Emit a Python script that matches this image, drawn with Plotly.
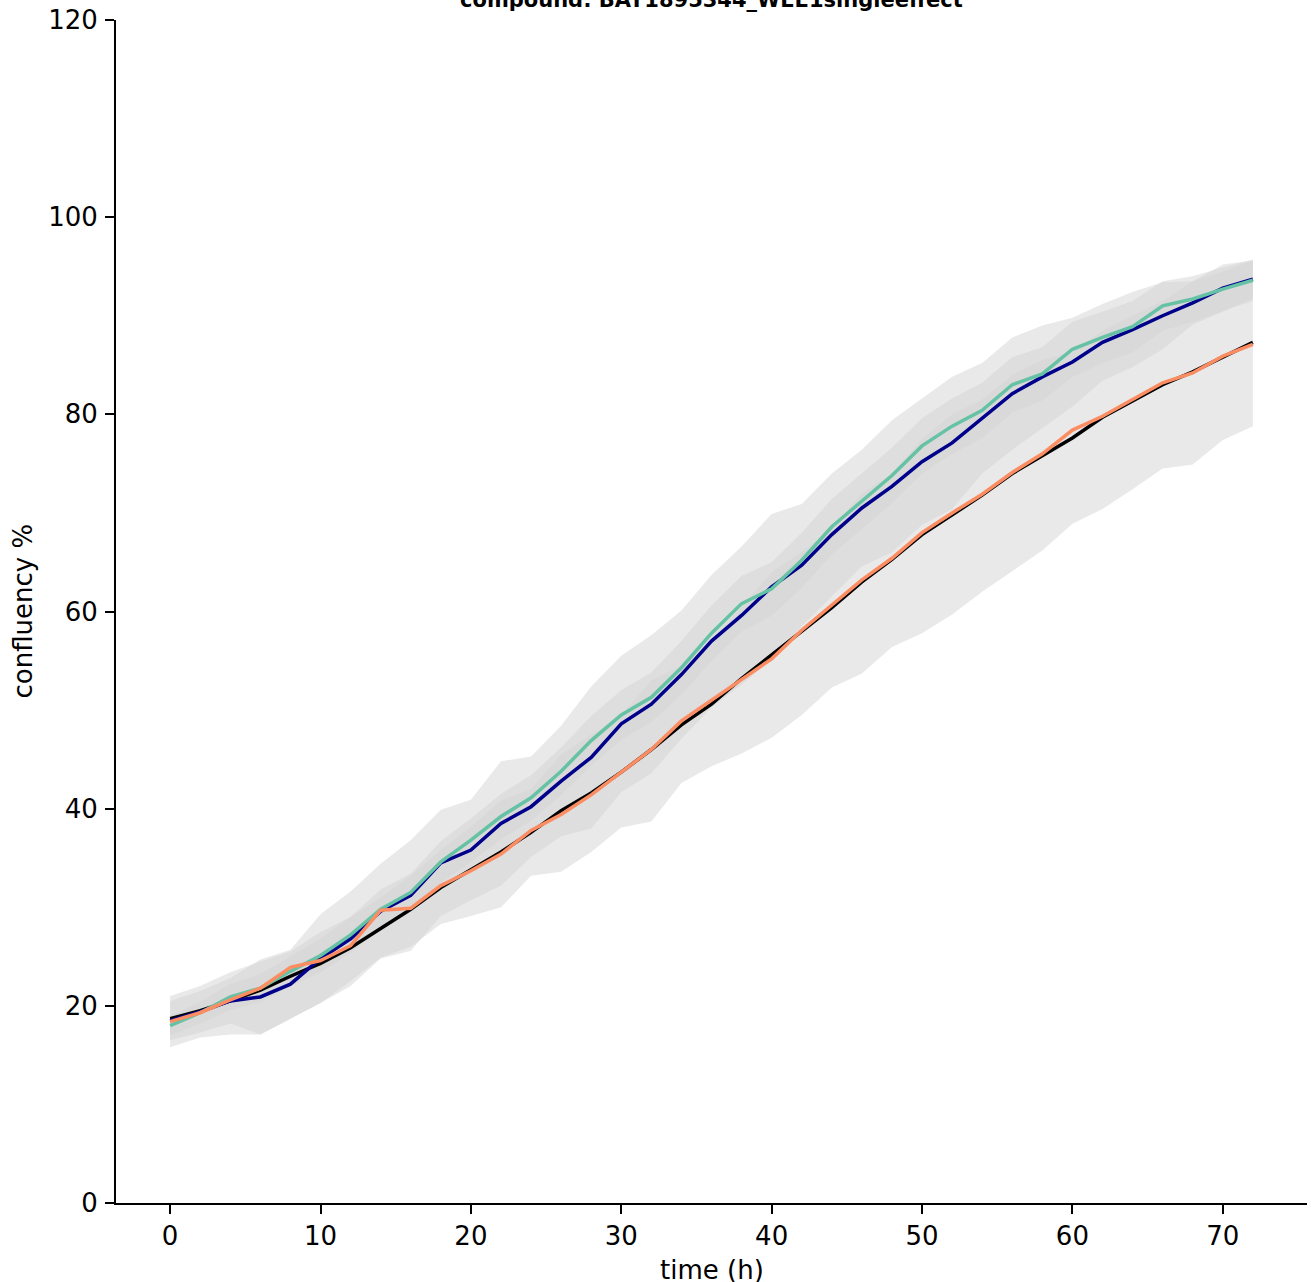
import plotly.graph_objects as go

time_h = list(range(0, 73, 2))

black_mean = [18.7,19.5,20.5,21.6,23.0,24.3,25.9,27.8,29.8,32.0,33.8,35.6,37.6,39.8,41.6,43.7,46.0,48.5,50.6,53.2,
              55.6,58.0,60.4,63.0,65.3,67.8,69.8,71.8,74.0,75.8,77.6,79.7,81.4,83.0,84.3,85.8,87.3]
black_lower = [15.8,16.8,17.1,17.1,18.7,20.3,22.5,24.9,26.0,28.3,29.1,30.0,33.2,33.6,35.6,38.1,38.7,42.6,44.3,45.6,
               47.2,49.5,52.3,53.7,56.4,57.8,59.7,62.0,64.1,66.2,68.9,70.4,72.4,74.5,74.9,77.4,78.8]
black_upper = [21.0,22.0,23.4,24.5,25.5,27.5,29.0,31.0,33.2,35.8,38.2,40.8,42.0,45.5,47.5,49.5,53.0,54.5,57.0,60.5,
               64.0,66.0,68.5,72.0,74.0,77.5,80.0,81.5,84.0,85.5,86.3,88.5,90.0,91.5,93.5,94.5,95.6]

blue_mean = [18.5,19.4,20.5,20.9,22.2,24.8,26.8,29.6,31.2,34.5,35.8,38.5,40.2,42.8,45.2,48.6,50.6,53.6,57.0,59.6,
             62.5,64.7,67.8,70.5,72.7,75.2,77.1,79.6,82.1,83.8,85.3,87.3,88.6,90.0,91.3,92.8,93.7]
blue_lower = [16.5,17.3,18.2,17.1,18.7,20.3,22.0,24.8,25.6,29.1,30.7,32.2,35.1,37.2,38.0,41.7,43.6,47.1,50.3,52.6,
              55.1,58.5,61.6,64.6,66.0,68.8,70.4,74.0,76.4,78.6,80.8,83.4,84.8,86.6,89.1,90.4,91.8]
blue_upper = [20.5,21.5,22.8,24.7,25.7,29.3,31.6,34.4,36.8,39.9,40.9,44.8,45.3,48.4,52.4,55.5,57.6,60.1,63.7,66.6,
              69.9,70.9,74.0,76.4,79.4,81.6,83.8,85.2,87.8,89.0,89.8,91.2,92.4,93.4,93.5,95.2,95.6]

green_mean = [18.0,19.3,20.9,21.8,23.5,25.1,27.2,29.8,31.5,34.6,36.8,39.2,41.1,43.8,46.9,49.5,51.3,54.3,57.8,60.8,
              62.3,65.2,68.6,71.2,73.8,76.8,78.8,80.4,83.0,84.1,86.6,87.8,88.9,91.0,91.7,92.7,93.6]
green_lower = [17.0,18.2,19.6,20.4,22.0,23.4,25.4,27.8,29.6,32.5,34.6,36.9,38.8,41.4,44.4,47.0,48.8,51.6,55.0,58.0,
               59.6,62.4,65.8,68.4,71.0,74.0,76.0,77.6,80.2,81.4,83.8,85.2,86.3,88.5,89.4,90.5,91.5]
green_upper = [19.0,20.4,22.2,23.2,25.0,26.8,29.0,31.8,33.4,36.7,39.0,41.5,43.4,46.2,49.4,52.0,53.8,57.0,60.6,63.6,
               65.0,68.0,71.4,74.0,76.6,79.6,81.6,83.2,85.8,86.8,89.4,90.4,91.5,93.5,94.0,94.9,95.7]

orange_mean = [18.4,19.3,20.6,21.8,23.9,24.6,26.1,29.7,29.9,32.2,33.7,35.4,37.8,39.4,41.4,43.7,46.0,48.9,51.0,53.0,
               55.2,58.1,60.6,63.2,65.4,68.0,70.0,71.9,74.1,76.0,78.4,79.8,81.5,83.2,84.2,85.9,87.1]

title_text = "compound: BAY1895344_WEE1singleeffect"
x_title = "time (h)"
y_title = "confluency %"
x_ticks = [0, 10, 20, 30, 40, 50, 60, 70]
y_ticks = [0, 20, 40, 60, 80, 100, 120]

BAND = "rgba(211,211,211,0.5)"
FONT = "DejaVu Sans"

fig = go.Figure()

for lo, hi in [(black_lower, black_upper), (blue_lower, blue_upper), (green_lower, green_upper)]:
    fig.add_trace(go.Scatter(
        x=time_h + time_h[::-1], y=hi + lo[::-1], fill="toself", fillcolor=BAND,
        line=dict(width=0), mode="lines", hoverinfo="skip", showlegend=False))

for ys, col in [(black_mean, "#000000"), (blue_mean, "#00008b"), (green_mean, "#66c2a5"), (orange_mean, "#fc8d62")]:
    fig.add_trace(go.Scatter(x=time_h, y=ys, mode="lines", line=dict(color=col, width=3.5), showlegend=False))

axis_common = dict(showgrid=False, zeroline=False, showline=True, linecolor="black", linewidth=2,
                   ticks="outside", ticklen=9, tickwidth=2, tickcolor="black",
                   tickfont=dict(family=FONT, size=26, color="black"))

fig.update_xaxes(range=[-3.6, 75.6], tickvals=x_ticks, **axis_common)
fig.update_yaxes(range=[0, 120], tickvals=y_ticks, ticklabelstandoff=2, **axis_common)

fig.update_layout(
    width=1313, height=1282, margin=dict(l=116, r=6, t=20, b=79),
    plot_bgcolor="white", paper_bgcolor="white",
    annotations=[
        dict(text=f"<b>{title_text}</b>", xref="paper", yref="paper", x=0.5, y=1, yanchor="bottom",
             yshift=6, showarrow=False, font=dict(family=FONT, size=21, color="black")),
        dict(text=x_title, xref="paper", yref="paper", x=0.5, y=0, yanchor="middle", yshift=-67,
             showarrow=False, font=dict(family=FONT, size=26, color="black")),
        dict(text=y_title, xref="paper", yref="paper", x=0, y=0.5, xanchor="center", xshift=-94,
             textangle=-90, showarrow=False, font=dict(family=FONT, size=26, color="black")),
    ],
)

fig.write_html("out.html", config={"displayModeBar": False},
               post_script="document.body.style.margin='0';")
